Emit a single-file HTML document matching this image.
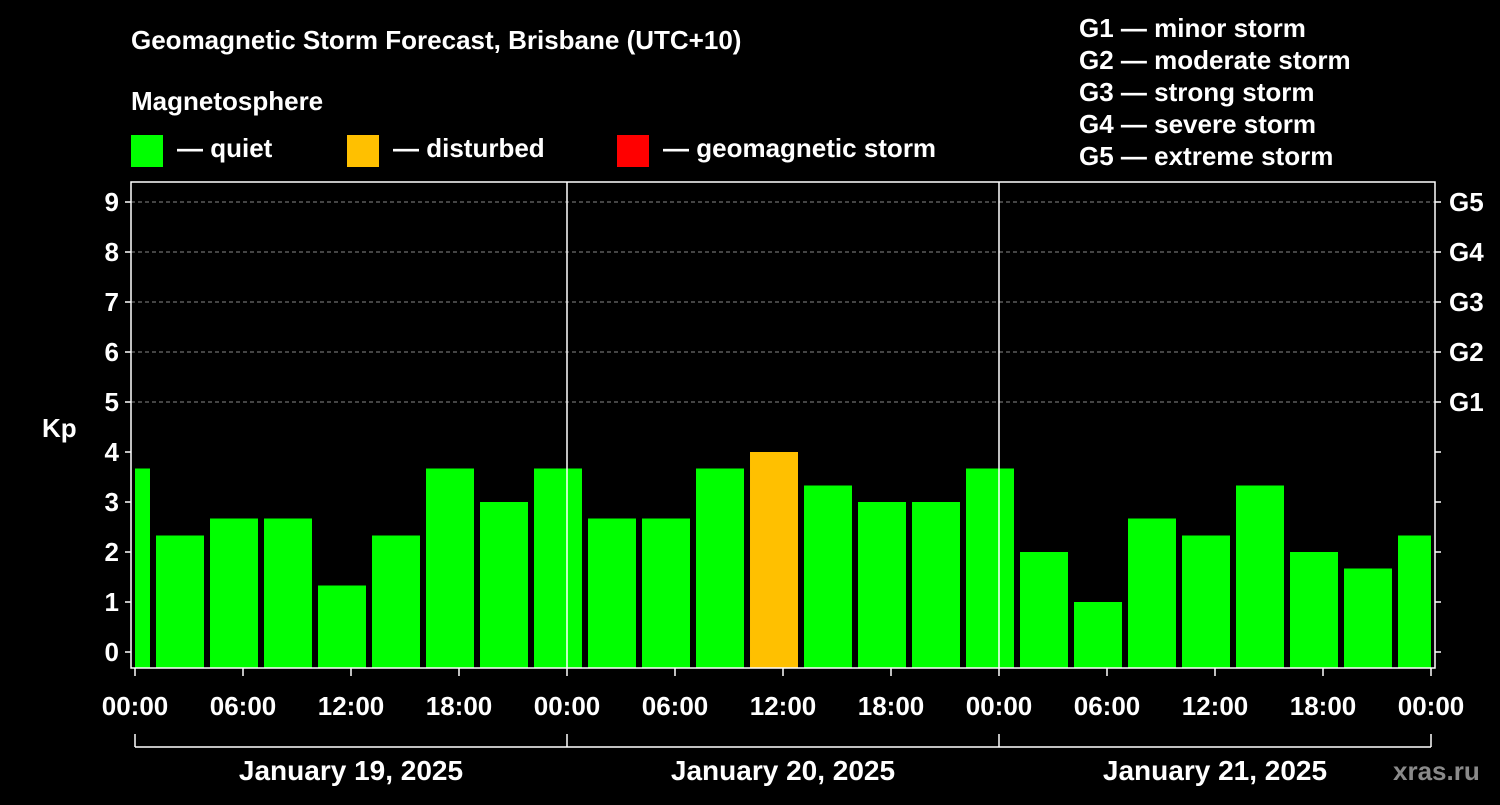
<!DOCTYPE html>
<html><head><meta charset="utf-8">
<style>
body{margin:0;background:#000;width:1500px;height:800px;overflow:hidden;font-family:"Liberation Sans",Arial,sans-serif;}
svg text{font-family:"Liberation Sans",Arial,sans-serif;font-weight:bold;fill:#fff;}
</style></head>
<body>
<svg id="chart" width="1500" height="800" xmlns="http://www.w3.org/2000/svg">
<rect width="1500" height="800" fill="#000"/>
<text x="131" y="49" font-size="26">Geomagnetic Storm Forecast, Brisbane (UTC+10)</text>
<text x="131" y="110" font-size="26">Magnetosphere</text>
<g>
<rect x="131" y="135" width="32" height="32" fill="#00ff00"/>
<text x="177" y="157" font-size="26">— quiet</text>
<rect x="347" y="135" width="32" height="32" fill="#ffc000"/>
<text x="393" y="157" font-size="26">— disturbed</text>
<rect x="617" y="135" width="32" height="32" fill="#ff0000"/>
<text x="663" y="157" font-size="26">— geomagnetic storm</text>
</g>
<g font-size="26">
<text x="1079" y="37">G1 — minor storm</text>
<text x="1079" y="69">G2 — moderate storm</text>
<text x="1079" y="101">G3 — strong storm</text>
<text x="1079" y="133">G4 — severe storm</text>
<text x="1079" y="165">G5 — extreme storm</text>
</g>
<text x="42" y="437" font-size="26">Kp</text>
<text x="1393" y="780" font-size="26" fill="#888" style="fill:#8a8a8a">xras.ru</text>
<g id="grid"></g>
<g id="bars"></g>
<g id="axes"></g>
</svg>
<script>
const kpValues=[3.67,2.33,2.67,2.67,1.33,2.33,3.67,3.0,3.67,2.67,2.67,3.67,4.0,3.33,3.0,3.0,3.67,2.0,1.0,2.67,2.33,3.33,2.0,1.67,2.33];
const barStartHour=-0.5; // bar centres in local hours from Jan 19 00:00
const timeTicks=["00:00","06:00","12:00","18:00","00:00","06:00","12:00","18:00","00:00","06:00","12:00","18:00","00:00"];
const dayLabels=["January 19, 2025","January 20, 2025","January 21, 2025"];
const yTicks=[0,1,2,3,4,5,6,7,8,9];
const gLabels=["G1","G2","G3","G4","G5"];

const NS="http://www.w3.org/2000/svg";
const X0=135,X1=1431,PL=131,PR=1435,PT=182,PB=668;
const xs=h=>X0+(h/72)*(X1-X0);
const ys=v=>652-v*50;
function mk(tag,attrs,parent){const e=document.createElementNS(NS,tag);for(const k in attrs)e.setAttribute(k,attrs[k]);parent.appendChild(e);return e;}
const grid=document.getElementById('grid'),bars=document.getElementById('bars'),axes=document.getElementById('axes');

for(let v=5;v<=9;v++){
  const l=mk('line',{x1:PL,x2:PR,y1:ys(v),y2:ys(v),stroke:'#888','stroke-dasharray':'4,3','stroke-width':1},grid);
  
  
}
kpValues.forEach((v,i)=>{
  const c=barStartHour+3*i;
  let a=Math.max(0,c-1.333),b=Math.min(72,c+1.333);
  const x=xs(a),w=xs(b)-xs(a);
  const r=mk('rect',{x:x,y:ys(v),width:w,height:PB-ys(v),fill:v>=5?'#ff0000':(v>=4?'#ffc000':'#00ff00')},bars);
  
  
});
// frame
const fr=mk('rect',{x:PL,y:PT,width:PR-PL,height:PB-PT,fill:'none',stroke:'#fff','stroke-width':1.5},axes);


[24,48].forEach(h=>{
  const l=mk('line',{x1:xs(h),x2:xs(h),y1:PT,y2:PB,stroke:'#fff','stroke-width':1.5},axes);
  
  
});
yTicks.forEach(v=>{
  mk('line',{x1:PL-6,x2:PL,y1:ys(v),y2:ys(v),stroke:'#fff','stroke-width':1.5},axes);
  mk('line',{x1:PR,x2:PR+6,y1:ys(v),y2:ys(v),stroke:'#fff','stroke-width':1.5},axes);
  const t=mk('text',{x:PL-12,y:ys(v)+9,'font-size':26,'text-anchor':'end'},axes);
  t.textContent=v;
  
  
});
gLabels.forEach((g,i)=>{
  const t=mk('text',{x:1449,y:ys(5+i)+9,'font-size':26},axes);
  t.textContent=g;
  
  
});
timeTicks.forEach((s,i)=>{
  const x=xs(i*6);
  mk('line',{x1:x,x2:x,y1:PB,y2:PB+8,stroke:'#fff','stroke-width':1.5},axes);
  const t=mk('text',{x:x,y:715,'font-size':26,'text-anchor':'middle'},axes);
  t.textContent=s;
  
  
});
mk('line',{x1:xs(0),x2:xs(72),y1:747,y2:747,stroke:'#fff','stroke-width':1.5},axes);
[0,24,48,72].forEach(h=>mk('line',{x1:xs(h),x2:xs(h),y1:734,y2:747,stroke:'#fff','stroke-width':1.5},axes));
dayLabels.forEach((d,i)=>{
  const t=mk('text',{x:xs(24*i+12),y:780,'font-size':28,'text-anchor':'middle'},axes);
  t.textContent=d;
  
  
});
</script>
</body></html>
